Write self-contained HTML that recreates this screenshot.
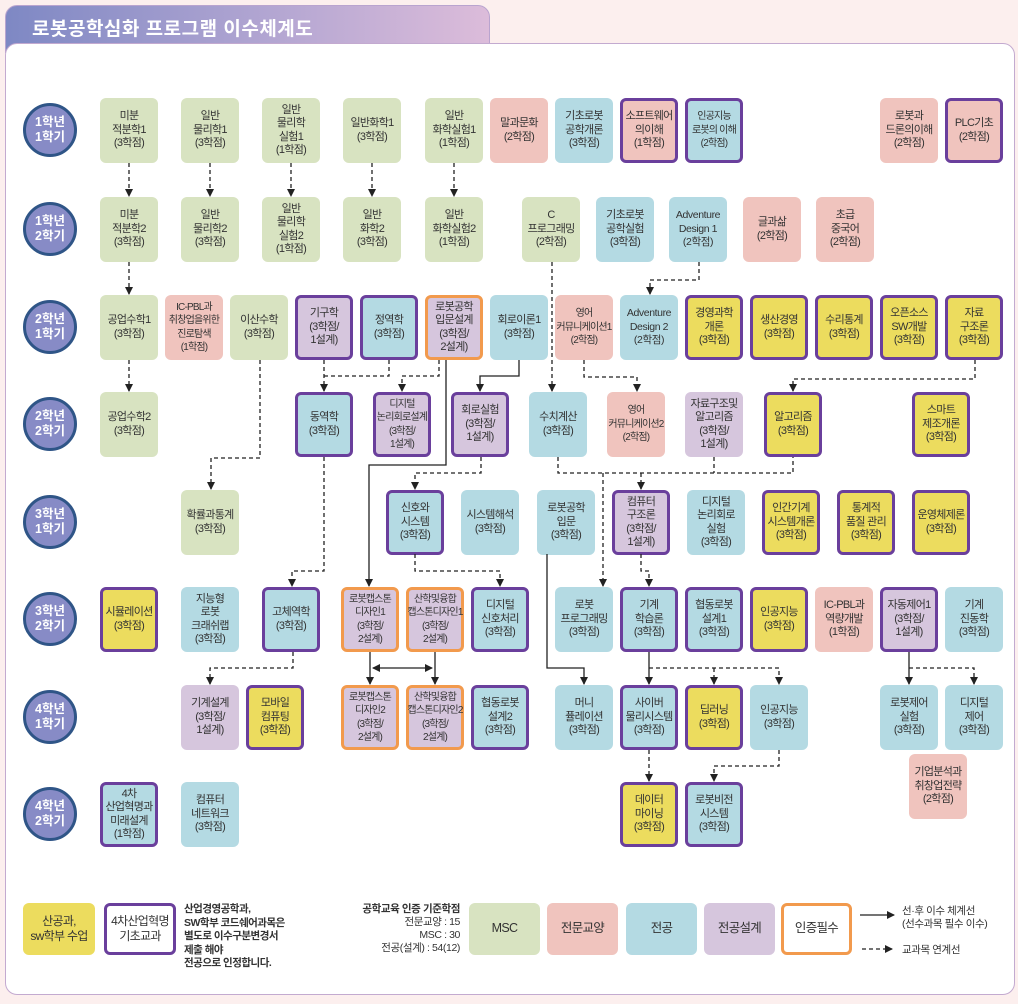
<!DOCTYPE html>
<html><head><meta charset="utf-8">
<style>
*{box-sizing:border-box;margin:0;padding:0}
body{width:1018px;height:1004px;background:#fcefee;position:relative;overflow:hidden;font-family:"Liberation Sans","Noto Sans CJK KR",sans-serif;color:#333}
.tab{position:absolute;left:5px;top:5px;width:485px;height:48px;border-radius:12px 12px 0 0;background:linear-gradient(90deg,#7e88c4,#b3a6d2 55%,#dcbcda);border:1px solid #b9a4cf}
.tab span{position:absolute;left:26px;top:8px;color:#fff;font-weight:bold;font-size:19px;letter-spacing:0.5px}
.panel{position:absolute;left:5px;top:43px;width:1010px;height:952px;background:#fff;border:1.5px solid #c3aad0;border-radius:12px}
.c{position:absolute;width:54px;height:54px;border-radius:50%;background:#878bc6;border:3px solid #2f5587;color:#fff;font-weight:bold;font-size:12.5px;line-height:15px;display:flex;align-items:center;justify-content:center;text-align:center}
.b{position:absolute;width:58px;height:65px;border-radius:6px;display:flex;align-items:center;justify-content:center;text-align:center;font-size:11px;line-height:13.5px;letter-spacing:-0.7px;white-space:nowrap}
.g{background:#d8e3c1}.p{background:#f0c4be}.u{background:#b4dae3}.l{background:#d6c6dd}.y{background:#ecdc5e}
.P{border:3px solid #6a3f9c}.O{border:3px solid #f29a4d}
.s{font-size:10px;letter-spacing:-0.8px}
.e{letter-spacing:-0.4px;font-size:10.5px}
svg{position:absolute;left:0;top:0}
.lg{position:absolute;font-size:11px;line-height:14px}
</style></head><body>
<div class="tab"><span>로봇공학심화 프로그램 이수체계도</span></div>
<div class="panel"></div>

<div class="c" style="left:23px;top:103px">1학년<br>1학기</div>
<div class="c" style="left:23px;top:202px">1학년<br>2학기</div>
<div class="c" style="left:23px;top:300px">2학년<br>1학기</div>
<div class="c" style="left:23px;top:397px">2학년<br>2학기</div>
<div class="c" style="left:23px;top:495px">3학년<br>1학기</div>
<div class="c" style="left:23px;top:592px">3학년<br>2학기</div>
<div class="c" style="left:23px;top:690px">4학년<br>1학기</div>
<div class="c" style="left:23px;top:787px">4학년<br>2학기</div>

<div class="b g" style="left:100px;top:98px">미분<br>적분학1<br>(3학점)</div>
<div class="b g" style="left:181px;top:98px">일반<br>물리학1<br>(3학점)</div>
<div class="b g" style="left:262px;top:98px">일반<br>물리학<br>실험1<br>(1학점)</div>
<div class="b g" style="left:343px;top:98px">일반화학1<br>(3학점)</div>
<div class="b g" style="left:425px;top:98px">일반<br>화학실험1<br>(1학점)</div>
<div class="b p" style="left:490px;top:98px">말과문화<br>(2학점)</div>
<div class="b u" style="left:555px;top:98px">기초로봇<br>공학개론<br>(3학점)</div>
<div class="b p P" style="left:620px;top:98px">소프트웨어<br>의이해<br>(1학점)</div>
<div class="b u P s" style="left:685px;top:98px">인공지능<br>로봇의 이해<br>(2학점)</div>
<div class="b p" style="left:880px;top:98px">로봇과<br>드론의이해<br>(2학점)</div>
<div class="b p P" style="left:945px;top:98px">PLC기초<br>(2학점)</div>

<div class="b g" style="left:100px;top:197px">미분<br>적분학2<br>(3학점)</div>
<div class="b g" style="left:181px;top:197px">일반<br>물리학2<br>(3학점)</div>
<div class="b g" style="left:262px;top:197px">일반<br>물리학<br>실험2<br>(1학점)</div>
<div class="b g" style="left:343px;top:197px">일반<br>화학2<br>(3학점)</div>
<div class="b g" style="left:425px;top:197px">일반<br>화학실험2<br>(1학점)</div>
<div class="b g" style="left:522px;top:197px">C<br>프로그래밍<br>(2학점)</div>
<div class="b u" style="left:596px;top:197px">기초로봇<br>공학실험<br>(3학점)</div>
<div class="b u e" style="left:669px;top:197px">Adventure<br>Design 1<br>(2학점)</div>
<div class="b p" style="left:743px;top:197px">글과삶<br>(2학점)</div>
<div class="b p" style="left:816px;top:197px">초급<br>중국어<br>(2학점)</div>

<div class="b g" style="left:100px;top:295px">공업수학1<br>(3학점)</div>
<div class="b p s" style="left:165px;top:295px">IC-PBL과<br>취창업을위한<br>진로탐색<br>(1학점)</div>
<div class="b g" style="left:230px;top:295px">이산수학<br>(3학점)</div>
<div class="b l P" style="left:295px;top:295px">기구학<br>(3학점/<br>1설계)</div>
<div class="b u P" style="left:360px;top:295px">정역학<br>(3학점)</div>
<div class="b l O" style="left:425px;top:295px">로봇공학<br>입문설계<br>(3학점/<br>2설계)</div>
<div class="b u" style="left:490px;top:295px">회로이론1<br>(3학점)</div>
<div class="b p s" style="left:555px;top:295px">영어<br>커뮤니케이션1<br>(2학점)</div>
<div class="b u e" style="left:620px;top:295px">Adventure<br>Design 2<br>(2학점)</div>
<div class="b y P" style="left:685px;top:295px">경영과학<br>개론<br>(3학점)</div>
<div class="b y P" style="left:750px;top:295px">생산경영<br>(3학점)</div>
<div class="b y P" style="left:815px;top:295px">수리통계<br>(3학점)</div>
<div class="b y P" style="left:880px;top:295px">오픈소스<br>SW개발<br>(3학점)</div>
<div class="b y P" style="left:945px;top:295px">자료<br>구조론<br>(3학점)</div>

<div class="b g" style="left:100px;top:392px">공업수학2<br>(3학점)</div>
<div class="b u P" style="left:295px;top:392px">동역학<br>(3학점)</div>
<div class="b l P s" style="left:373px;top:392px">디지털<br>논리회로설계<br>(3학점/<br>1설계)</div>
<div class="b l P" style="left:451px;top:392px">회로실험<br>(3학점/<br>1설계)</div>
<div class="b u" style="left:529px;top:392px">수치계산<br>(3학점)</div>
<div class="b p s" style="left:607px;top:392px">영어<br>커뮤니케이션2<br>(2학점)</div>
<div class="b l" style="left:685px;top:392px">자료구조및<br>알고리즘<br>(3학점/<br>1설계)</div>
<div class="b y P" style="left:764px;top:392px">알고리즘<br>(3학점)</div>
<div class="b y P" style="left:912px;top:392px">스마트<br>제조개론<br>(3학점)</div>

<div class="b g" style="left:181px;top:490px">확률과통계<br>(3학점)</div>
<div class="b u P" style="left:386px;top:490px">신호와<br>시스템<br>(3학점)</div>
<div class="b u" style="left:461px;top:490px">시스템해석<br>(3학점)</div>
<div class="b u" style="left:537px;top:490px">로봇공학<br>입문<br>(3학점)</div>
<div class="b l P" style="left:612px;top:490px">컴퓨터<br>구조론<br>(3학점/<br>1설계)</div>
<div class="b u" style="left:687px;top:490px">디지털<br>논리회로<br>실험<br>(3학점)</div>
<div class="b y P" style="left:762px;top:490px">인간기계<br>시스템개론<br>(3학점)</div>
<div class="b y P" style="left:837px;top:490px">통계적<br>품질 관리<br>(3학점)</div>
<div class="b y P" style="left:912px;top:490px">운영체제론<br>(3학점)</div>

<div class="b y P" style="left:100px;top:587px">시뮬레이션<br>(3학점)</div>
<div class="b u" style="left:181px;top:587px">지능형<br>로봇<br>크래쉬랩<br>(3학점)</div>
<div class="b u P" style="left:262px;top:587px">고체역학<br>(3학점)</div>
<div class="b l O s" style="left:341px;top:587px">로봇캡스톤<br>디자인1<br>(3학점/<br>2설계)</div>
<div class="b l O s" style="left:406px;top:587px">산학및융합<br>캡스톤디자인1<br>(3학점/<br>2설계)</div>
<div class="b u P" style="left:471px;top:587px">디지털<br>신호처리<br>(3학점)</div>
<div class="b u" style="left:555px;top:587px">로봇<br>프로그래밍<br>(3학점)</div>
<div class="b u P" style="left:620px;top:587px">기계<br>학습론<br>(3학점)</div>
<div class="b u P" style="left:685px;top:587px">협동로봇<br>설계1<br>(3학점)</div>
<div class="b y P" style="left:750px;top:587px">인공지능<br>(3학점)</div>
<div class="b p" style="left:815px;top:587px">IC-PBL과<br>역량개발<br>(1학점)</div>
<div class="b l P" style="left:880px;top:587px">자동제어1<br>(3학점/<br>1설계)</div>
<div class="b u" style="left:945px;top:587px">기계<br>진동학<br>(3학점)</div>

<div class="b l" style="left:181px;top:685px">기계설계<br>(3학점/<br>1설계)</div>
<div class="b y P" style="left:246px;top:685px">모바일<br>컴퓨팅<br>(3학점)</div>
<div class="b l O s" style="left:341px;top:685px">로봇캡스톤<br>디자인2<br>(3학점/<br>2설계)</div>
<div class="b l O s" style="left:406px;top:685px">산학및융합<br>캡스톤디자인2<br>(3학점/<br>2설계)</div>
<div class="b u P" style="left:471px;top:685px">협동로봇<br>설계2<br>(3학점)</div>
<div class="b u" style="left:555px;top:685px">머니<br>퓰레이션<br>(3학점)</div>
<div class="b u P" style="left:620px;top:685px">사이버<br>물리시스템<br>(3학점)</div>
<div class="b y P" style="left:685px;top:685px">딥러닝<br>(3학점)</div>
<div class="b u" style="left:750px;top:685px">인공지능<br>(3학점)</div>
<div class="b u" style="left:880px;top:685px">로봇제어<br>실험<br>(3학점)</div>
<div class="b u" style="left:945px;top:685px">디지털<br>제어<br>(3학점)</div>
<div class="b p" style="left:909px;top:754px">기업분석과<br>취창업전략<br>(2학점)</div>

<div class="b u P" style="left:100px;top:782px">4차<br>산업혁명과<br>미래설계<br>(1학점)</div>
<div class="b u" style="left:181px;top:782px">컴퓨터<br>네트워크<br>(3학점)</div>
<div class="b y P" style="left:620px;top:782px">데이터<br>마이닝<br>(3학점)</div>
<div class="b u P" style="left:685px;top:782px">로봇비전<br>시스템<br>(3학점)</div>

<svg width="1018" height="1004" viewBox="0 0 1018 1004">
<defs>
<marker id="a" markerWidth="8" markerHeight="8" refX="7" refY="4" orient="auto" markerUnits="userSpaceOnUse"><path d="M0,0 L8,4 L0,8 z" fill="#222"/></marker>
<marker id="s" markerWidth="8" markerHeight="8" refX="1" refY="4" orient="auto" markerUnits="userSpaceOnUse"><path d="M8,0 L0,4 L8,8 z" fill="#222"/></marker>
</defs>
<g fill="none" stroke="#222" stroke-width="1.3" stroke-dasharray="4,3">
<path d="M129 163V196" marker-end="url(#a)"/>
<path d="M210 163V196" marker-end="url(#a)"/>
<path d="M291 163V196" marker-end="url(#a)"/>
<path d="M372 163V196" marker-end="url(#a)"/>
<path d="M454 163V196" marker-end="url(#a)"/>
<path d="M129 262V294" marker-end="url(#a)"/>
<path d="M129 360V391" marker-end="url(#a)"/>
<path d="M552 262V391" marker-end="url(#a)"/>
<path d="M699 262V280H650V294" marker-end="url(#a)"/>
<path d="M260 360V458H211V489" marker-end="url(#a)"/>
<path d="M389 360V376H324"/>
<path d="M324 360V391" marker-end="url(#a)"/>
<path d="M439 360V376H402V391" marker-end="url(#a)"/>
<path d="M584 360V377H637V391" marker-end="url(#a)"/>
<path d="M975 360V379H793V391" marker-end="url(#a)"/>
<path d="M481 457V473H415V489" marker-end="url(#a)"/>
<path d="M324 457V571H292V586" marker-end="url(#a)"/>
<path d="M558 457V473H793V457"/>
<path d="M714 457V473"/>
<path d="M603 473V586" marker-end="url(#a)"/>
<path d="M641 473V489" marker-end="url(#a)"/>
<path d="M641 554V571H649V586" marker-end="url(#a)"/>
<path d="M415 554V571H500V586" marker-end="url(#a)"/>
<path d="M293 652V668H210V684" marker-end="url(#a)"/>
<path d="M649 668H779V684" marker-end="url(#a)"/>
<path d="M714 668V684" marker-end="url(#a)"/>
<path d="M909 668H974V684" marker-end="url(#a)"/>
<path d="M649 750V781" marker-end="url(#a)"/>
<path d="M779 750V766H714V781" marker-end="url(#a)"/>
<path d="M862 949H892" marker-end="url(#a)"/>
</g>
<g fill="none" stroke="#222" stroke-width="1.3">
<path d="M446 360V465H369V586" marker-end="url(#a)"/>
<path d="M519 360V376H480V391" marker-end="url(#a)"/>
<path d="M547 554V668H584V684" marker-end="url(#a)"/>
<path d="M649 652V684" marker-end="url(#a)"/>
<path d="M909 652V684" marker-end="url(#a)"/>
<path d="M370 652V684" marker-end="url(#a)"/>
<path d="M435 652V684" marker-end="url(#a)"/>
<path d="M373 668H432" marker-start="url(#s)" marker-end="url(#a)"/>
<path d="M860 915H894" marker-end="url(#a)"/>
</g>
</svg>

<div class="b y" style="left:23px;top:903px;width:72px;height:52px;font-size:12px;line-height:15px">산공과,<br>sw학부 수업</div>
<div class="b P" style="left:104px;top:903px;width:72px;height:52px;background:#fff;font-size:12px;line-height:15px">4차산업혁명<br>기초교과</div>
<div class="lg" style="left:184px;top:903px;font-weight:bold;font-size:10.5px;line-height:13.5px;letter-spacing:-0.5px">산업경영공학과,<br>SW학부 코드쉐어과목은<br>별도로 이수구분변경서<br>제출 해야<br>전공으로 인정합니다.</div>
<div class="lg" style="left:330px;top:903px;width:130px;text-align:right;font-size:10.5px;line-height:13px;letter-spacing:-0.4px"><b>공학교육 인증 기준학점</b><br>전문교양 : 15<br>MSC : 30<br>전공(설계) : 54(12)</div>
<div class="b g" style="left:469px;top:903px;width:71px;height:52px;font-size:12.5px">MSC</div>
<div class="b p" style="left:547px;top:903px;width:71px;height:52px;font-size:12.5px">전문교양</div>
<div class="b u" style="left:626px;top:903px;width:71px;height:52px;font-size:12.5px">전공</div>
<div class="b l" style="left:704px;top:903px;width:71px;height:52px;font-size:12.5px">전공설계</div>
<div class="b O" style="left:781px;top:903px;width:71px;height:52px;background:#fff;font-size:12.5px">인증필수</div>
<div class="lg" style="left:902px;top:905px;font-size:10.5px;line-height:13px;letter-spacing:-0.4px">선·후 이수 체계선<br>(선수과목 필수 이수)</div>
<div class="lg" style="left:902px;top:943px;font-size:10.5px;letter-spacing:-0.4px">교과목 연계선</div>
</body></html>
